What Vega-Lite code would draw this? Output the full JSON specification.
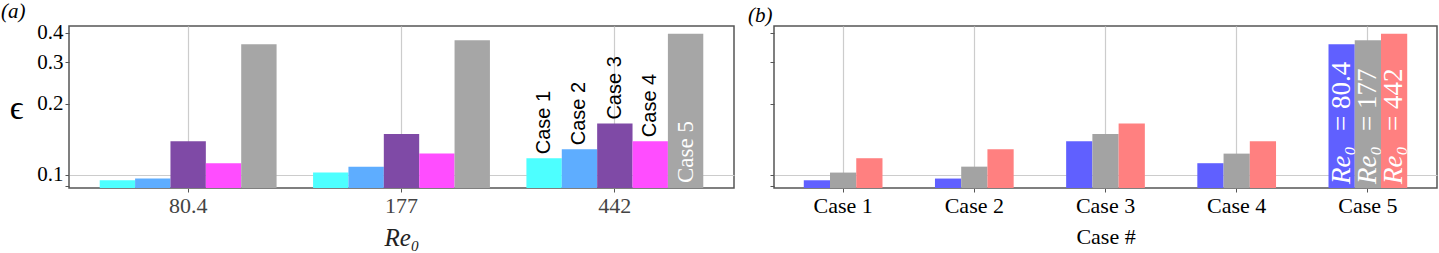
{
  "$schema": "https://vega.github.io/schema/vega-lite/v6.json",
  "padding": 0,
  "background": "white",
  "data": {"values": [
    {"re": "80.4", "case": "Case 1", "eps": 0.0949},
    {"re": "80.4", "case": "Case 2", "eps": 0.0965},
    {"re": "80.4", "case": "Case 3", "eps": 0.139},
    {"re": "80.4", "case": "Case 4", "eps": 0.1121},
    {"re": "80.4", "case": "Case 5", "eps": 0.358},
    {"re": "177", "case": "Case 1", "eps": 0.1023},
    {"re": "177", "case": "Case 2", "eps": 0.1084},
    {"re": "177", "case": "Case 3", "eps": 0.149},
    {"re": "177", "case": "Case 4", "eps": 0.1231},
    {"re": "177", "case": "Case 5", "eps": 0.372},
    {"re": "442", "case": "Case 1", "eps": 0.1177},
    {"re": "442", "case": "Case 2", "eps": 0.1285},
    {"re": "442", "case": "Case 3", "eps": 0.165},
    {"re": "442", "case": "Case 4", "eps": 0.139},
    {"re": "442", "case": "Case 5", "eps": 0.397}
  ]},
  "config": {
    "view": {"stroke": "#555555", "strokeWidth": 1.5},
    "font": "Liberation Serif",
    "axis": {
      "domain": false,
      "tickColor": "#555555",
      "tickSize": 4,
      "labelFont": "Liberation Serif",
      "titleFont": "Liberation Serif",
      "titleFontWeight": "normal",
      "gridColor": "#cccccc",
      "gridWidth": 1.2,
      "zindex": 1
    },
    "title": {"font": "Liberation Serif", "fontSize": 21, "fontWeight": "normal", "fontStyle": "italic", "anchor": "start", "frame": "group", "color": "black"}
  },
  "bounds": "flush",
  "spacing": 40,
  "resolve": {"scale": {"color": "independent", "x": "independent", "xOffset": "independent", "y": "independent"}},
  "hconcat": [
    {
      "width": 665,
      "height": 162,
      "title": {"text": "(a)", "dx": -68, "offset": 0},
      "encoding": {
        "x": {
          "field": "re", "type": "nominal", "sort": ["80.4", "177", "442"],
          "scale": {"paddingInner": 0.171, "paddingOuter": 0.144},
          "axis": {"labelAngle": 0, "labelFontSize": 22, "labelColor": "#444444", "labelPadding": 3,
                   "title": "Re₀", "titleFontSize": 25, "titleFontStyle": "italic", "titleColor": "#222222", "titlePadding": 9, "grid": true}
        },
        "xOffset": {
          "field": "case", "type": "nominal", "sort": ["Case 1", "Case 2", "Case 3", "Case 4", "Case 5"],
          "scale": {"paddingInner": 0, "paddingOuter": 0}
        },
        "y": {
          "field": "eps", "type": "quantitative",
          "scale": {"type": "log", "domain": [0.088, 0.428], "nice": false},
          "axis": {
            "values": [0.09, 0.1, 0.2, 0.3, 0.4],
            "labelExpr": "datum.value < 0.095 ? '' : format(datum.value, '.1f')",
            "labelFontSize": 21, "labelColor": "black", "labelPadding": 2,
            "grid": true,
            "gridOpacity": {"condition": {"test": "abs(datum.value - 0.1) < 0.001", "value": 1}, "value": 0},
            "title": "ϵ", "titleAngle": 0, "titleFontSize": 34, "titleX": -53, "titleY": 82,
            "titleAlign": "center", "titleBaseline": "middle", "titleColor": "black"
          }
        }
      },
      "layer": [
        {
          "mark": {"type": "bar"},
          "encoding": {
            "y2": {"datum": 0.088},
            "color": {
              "field": "case", "type": "nominal",
              "scale": {"domain": ["Case 1", "Case 2", "Case 3", "Case 4", "Case 5"],
                        "range": ["#4dffff", "#5eadff", "#7f4aa6", "#ff4dff", "#a6a6a6"]},
              "legend": null
            }
          }
        },
        {
          "transform": [{"filter": "datum.re == '442' && datum.case != 'Case 5'"}],
          "mark": {"type": "text", "angle": 270, "align": "left", "baseline": "middle", "dx": 4,
                   "font": "Liberation Sans", "fontSize": 20, "color": "black"},
          "encoding": {"text": {"field": "case"}}
        },
        {
          "transform": [{"filter": "datum.re == '442' && datum.case == 'Case 5'"}],
          "mark": {"type": "text", "angle": 270, "align": "left", "baseline": "middle", "dx": 5,
                   "font": "Liberation Serif", "fontSize": 23, "color": "white"},
          "encoding": {"text": {"field": "case"}, "y": {"datum": 0.088}}
        }
      ]
    },
    {
      "width": 663,
      "height": 162,
      "title": {"text": "(b)", "dx": -26, "offset": 0},
      "encoding": {
        "x": {
          "field": "case", "type": "nominal", "sort": ["Case 1", "Case 2", "Case 3", "Case 4", "Case 5"],
          "scale": {"paddingInner": 0.4, "paddingOuter": 0.227},
          "axis": {"labelAngle": 0, "labelFontSize": 22, "labelColor": "black", "labelPadding": 3,
                   "title": "Case #", "titleFontSize": 22, "titleColor": "black", "titlePadding": 10, "grid": true}
        },
        "xOffset": {
          "field": "re", "type": "nominal", "sort": ["80.4", "177", "442"],
          "scale": {"paddingInner": 0, "paddingOuter": 0}
        },
        "y": {
          "field": "eps", "type": "quantitative",
          "scale": {"type": "log", "domain": [0.088, 0.428], "nice": false},
          "axis": {
            "values": [0.09, 0.1, 0.2, 0.3, 0.4],
            "labels": false,
            "grid": true,
            "gridOpacity": {"condition": {"test": "abs(datum.value - 0.1) < 0.001", "value": 1}, "value": 0},
            "title": null
          }
        }
      },
      "layer": [
        {
          "mark": {"type": "bar"},
          "encoding": {
            "y2": {"datum": 0.088},
            "color": {
              "field": "re", "type": "nominal",
              "scale": {"domain": ["80.4", "177", "442"], "range": ["#6060ff", "#a3a3a3", "#ff8080"]},
              "legend": null
            }
          }
        },
        {
          "transform": [{"filter": "datum.case == 'Case 5'"}],
          "mark": {"type": "text", "angle": 270, "align": "left", "baseline": "middle", "dx": 4,
                   "font": "Liberation Serif", "fontStyle": "italic", "fontSize": 27, "color": "white", "text": "Re₀"},
          "encoding": {"y": {"datum": 0.088}}
        },
        {
          "transform": [
            {"filter": "datum.case == 'Case 5'"},
            {"calculate": "'= ' + datum.re", "as": "label"}
          ],
          "mark": {"type": "text", "angle": 270, "align": "left", "baseline": "middle", "dx": 57,
                   "font": "Liberation Serif", "fontSize": 27, "color": "white"},
          "encoding": {"text": {"field": "label"}, "y": {"datum": 0.088}}
        }
      ]
    }
  ]
}
